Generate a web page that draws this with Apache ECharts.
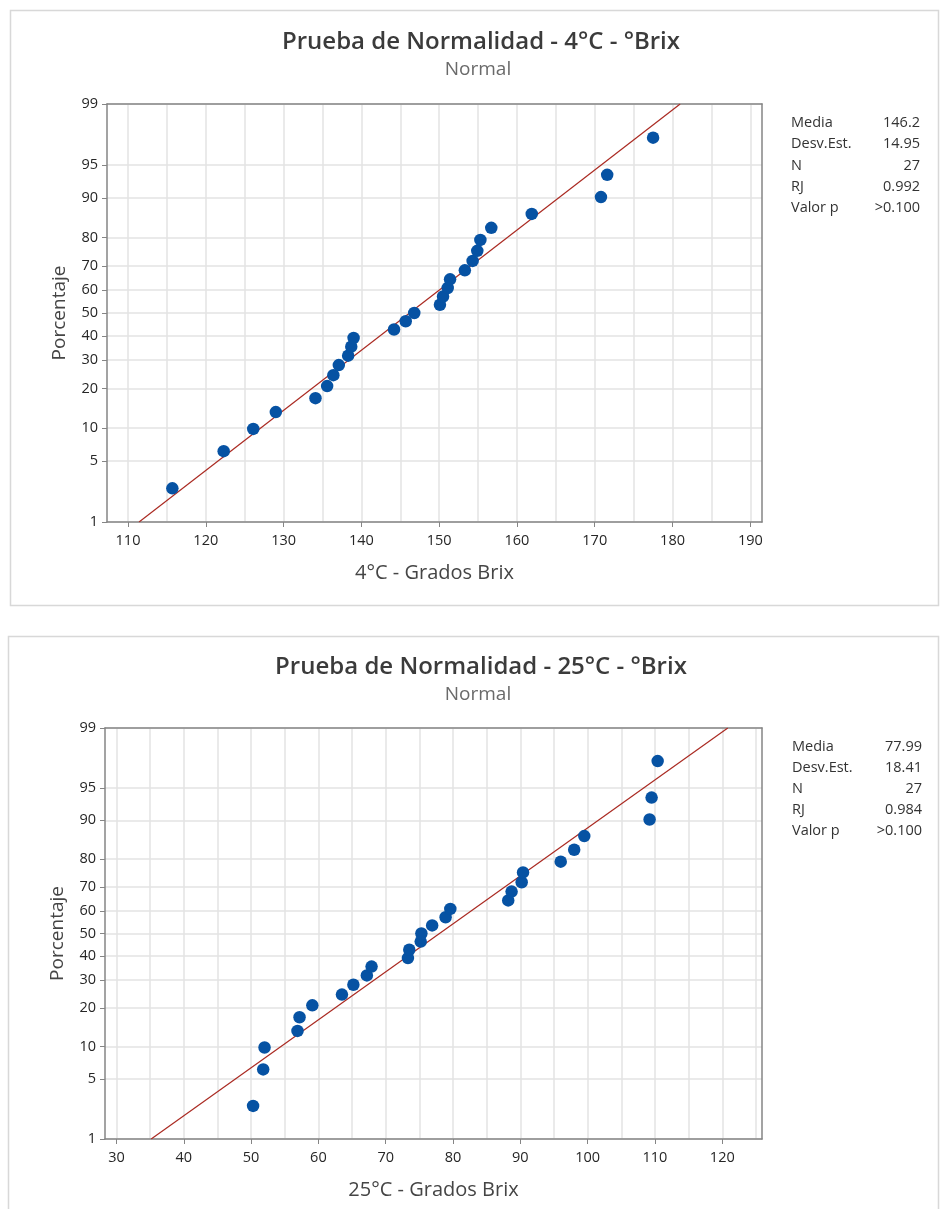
<!DOCTYPE html>
<html>
<head>
<meta charset="utf-8">
<title>Prueba de Normalidad</title>
<script src="https://cdn.jsdelivr.net/npm/echarts@6/dist/echarts.min.js"></script>
<style>
  html, body { margin: 0; padding: 0; background: #fff; }
  #main { width: 940px; height: 1209px; }
</style>
</head>
<body>
<div id="main"></div>
<script>
// ticks of the probability (percent) axis
const pctTicks = [1, 5, 10, 20, 30, 40, 50, 60, 70, 80, 90, 95, 99]

// plotting positions (%) of the 27 ordered points, same in both plots
const pctPoints = [2.55, 6.20, 9.85, 13.50, 17.15, 20.80, 24.45, 28.10, 31.75,
  35.40, 39.05, 42.70, 46.35, 50.00, 53.65, 57.30, 60.95, 64.60, 68.25, 71.90,
  75.55, 79.20, 82.85, 86.50, 90.15, 93.80, 97.45]

const brix4 = [115.7, 122.3, 126.1, 129.0, 134.1, 135.6, 136.4, 137.1, 138.3,
  138.7, 139.0, 144.2, 145.7, 146.8, 150.1, 150.5, 151.1, 151.4, 153.3, 154.3,
  154.9, 155.3, 156.7, 161.9, 170.8, 171.6, 177.5]
const brix25 = [50.3, 51.8, 52.0, 56.9, 57.2, 59.1, 63.5, 65.2, 67.2,
  67.9, 73.3, 73.5, 75.2, 75.3, 76.9, 78.9, 79.6, 88.2, 88.7, 90.2,
  90.4, 96.0, 98.0, 99.5, 109.2, 109.5, 110.4]

// x axis ticks (labelled) and grid lines
const xTicks4 = [110, 120, 130, 140, 150, 160, 170, 180, 190]
const xGrid4 = [110, 115, 120, 125, 130, 135, 140, 145, 150, 155, 160, 165, 170, 175, 180, 185, 190]
const xTicks25 = [30, 40, 50, 60, 70, 80, 90, 100, 110, 120]
const xGrid25 = [30, 35, 40, 45, 50, 55, 60, 65, 70, 75, 80, 85, 90, 95, 100, 105, 110, 115, 120, 125]

// stats table
const statLabels = ['Media', 'Desv.Est.', 'N', 'RJ', 'Valor p']
const stats4 = ['146.2', '14.95', '27', '0.992', '>0.100']
const stats25 = ['77.99', '18.41', '27', '0.984', '>0.100']

const FONT = '"Open Sans", "Noto Sans", sans-serif'

// inverse of the normal cdf (Acklam), used to build the probability scale
function probit(p) {
    const a = [-3.969683028665376e+01, 2.209460984245205e+02, -2.759285104469687e+02, 1.383577518672690e+02, -3.066479806614716e+01, 2.506628277459239e+00]
    const b = [-5.447609879822406e+01, 1.615858368580409e+02, -1.556989798598866e+02, 6.680131188771972e+01, -1.328068155288572e+01]
    const c = [-7.784894002430293e-03, -3.223964580411365e-01, -2.400758277161838e+00, -2.549732539343734e+00, 4.374664141464968e+00, 2.938163982698783e+00]
    const d = [7.784695709041462e-03, 3.224671290700398e-01, 2.445134137142996e+00, 3.754408661907416e+00]
    const pl = 0.02425
    let q, r
    if (p < pl) {
        q = Math.sqrt(-2 * Math.log(p))
        return (((((c[0] * q + c[1]) * q + c[2]) * q + c[3]) * q + c[4]) * q + c[5]) / ((((d[0] * q + d[1]) * q + d[2]) * q + d[3]) * q + 1)
    }
    if (p > 1 - pl) {
        q = Math.sqrt(-2 * Math.log(1 - p))
        return -(((((c[0] * q + c[1]) * q + c[2]) * q + c[3]) * q + c[4]) * q + c[5]) / ((((d[0] * q + d[1]) * q + d[2]) * q + d[3]) * q + 1)
    }
    q = p - 0.5
    r = q * q
    return (((((a[0] * r + a[1]) * r + a[2]) * r + a[3]) * r + a[4]) * r + a[5]) * q / (((((b[0] * r + b[1]) * r + b[2]) * r + b[3]) * r + b[4]) * r + 1)
}

const zTicks = pctTicks.map(p => probit(p / 100))
const zMin = zTicks[0]
const zMax = zTicks[zTicks.length - 1]

const axisColor = '#858585'
const gridColor = '#e3e3e3'

function pctLabel(v) {
    const i = zTicks.findIndex(z => Math.abs(z - v) < 1e-6)
    return i >= 0 ? String(pctTicks[i]) : ''
}

function makeX(gi, min, max, ticks, grid, name) {
    return [
        {
            gridIndex: gi, type: 'value', position: 'bottom', min: min, max: max,
            axisLine: { show: true, onZero: false, lineStyle: { color: axisColor, width: 1.5 } },
            axisTick: { show: true, length: 5, customValues: ticks, lineStyle: { color: axisColor } },
            axisLabel: { customValues: ticks, color: '#262626', fontSize: 14.5, fontFamily: FONT, margin: 11 },
            splitLine: { show: false },
            name: name, nameLocation: 'middle', nameGap: 41,
            nameTextStyle: { color: '#454545', fontSize: 20, fontFamily: FONT }
        },
        {
            gridIndex: gi, type: 'value', position: 'top', min: min, max: max,
            axisLine: { show: true, onZero: false, lineStyle: { color: axisColor, width: 1.5 } },
            axisTick: { show: false, customValues: grid },
            axisLabel: { show: false },
            splitLine: { show: true, lineStyle: { color: gridColor, width: 1.5 } }
        }
    ]
}

function makeY(gi) {
    return [
        {
            gridIndex: gi, type: 'value', position: 'left', min: zMin, max: zMax,
            axisLine: { show: true, onZero: false, lineStyle: { color: axisColor, width: 1.5 } },
            axisTick: { show: true, length: 5, customValues: zTicks, lineStyle: { color: axisColor } },
            axisLabel: { customValues: zTicks, formatter: pctLabel, color: '#262626', fontSize: 14.5, fontFamily: FONT, margin: 9 },
            splitLine: { show: true, lineStyle: { color: gridColor, width: 1.5 } },
            name: 'Porcentaje', nameLocation: 'middle', nameGap: 38, nameRotate: 90,
            nameTextStyle: { color: '#454545', fontSize: 19, fontFamily: FONT }
        },
        {
            gridIndex: gi, type: 'value', position: 'right', min: zMin, max: zMax,
            axisLine: { show: true, onZero: false, lineStyle: { color: axisColor, width: 1.5 } },
            axisTick: { show: false },
            axisLabel: { show: false },
            splitLine: { show: false }
        }
    ]
}

function makeSeries(axisIdx, values, stats) {
    const mean = parseFloat(stats[0])
    const sd = parseFloat(stats[1])
    return [
        {
            type: 'line', xAxisIndex: axisIdx, yAxisIndex: axisIdx,
            data: [[mean + sd * zMin, zMin], [mean + sd * zMax, zMax]],
            symbol: 'none', lineStyle: { color: '#aa2a22', width: 1.2 }, z: 2,
            silent: true
        },
        {
            type: 'scatter', xAxisIndex: axisIdx, yAxisIndex: axisIdx,
            data: values.map((v, i) => [v, probit(pctPoints[i] / 100)]),
            symbol: 'circle', symbolSize: 12.5, itemStyle: { color: '#0652a3', opacity: 1 }, z: 3
        }
    ]
}

function statTexts(rowY, step, xl, xr, values) {
    const out = []
    statLabels.forEach((lab, i) => {
        out.push({
            type: 'text', x: xl, y: rowY + i * step,
            style: { text: lab, font: '14.5px ' + FONT, fill: '#333', align: 'left', textAlign: 'left', verticalAlign: 'middle', textVerticalAlign: 'middle' }
        })
        out.push({
            type: 'text', x: xr, y: rowY + i * step,
            style: { text: values[i], font: '14.5px ' + FONT, fill: '#333', align: 'right', textAlign: 'right', verticalAlign: 'middle', textVerticalAlign: 'middle' }
        })
    })
    return out
}

function titleTexts(y, title) {
    return [
        {
            type: 'text', x: 481, y: y,
            style: { text: title, font: '600 24px ' + FONT, fill: '#3b3b3b', align: 'center', textAlign: 'center', verticalAlign: 'middle', textVerticalAlign: 'middle' }
        },
        {
            type: 'text', x: 478, y: y + 27,
            style: { text: 'Normal', font: '19px ' + FONT, fill: '#6a6a6a', align: 'center', textAlign: 'center', verticalAlign: 'middle', textVerticalAlign: 'middle' }
        }
    ]
}

const myChart = echarts.init(document.getElementById('main'), null, { renderer: 'canvas' })

const option = {
    backgroundColor: '#fff',
    animation: false,
    grid: [
        { left: 107, top: 104, width: 655, height: 418 },
        { left: 105, top: 728, width: 657, height: 411 }
    ],
    xAxis: [
        ...makeX(0, 107.3, 191.5, xTicks4, xGrid4, '4°C - Grados Brix'),
        ...makeX(1, 28.3, 125.9, xTicks25, xGrid25, '25°C - Grados Brix')
    ],
    yAxis: [...makeY(0), ...makeY(1)],
    series: [
        ...makeSeries(0, brix4, stats4),
        ...makeSeries(2, brix25, stats25)
    ],
    graphic: [
        { type: 'rect', shape: { x: 10.5, y: 10.5, width: 928, height: 595 }, style: { fill: 'none', stroke: '#d8d8d8', lineWidth: 1.5 }, z: -10 },
        { type: 'rect', shape: { x: 8.5, y: 636.5, width: 930, height: 620 }, style: { fill: 'none', stroke: '#d8d8d8', lineWidth: 1.5 }, z: -10 },
        ...titleTexts(42.5, 'Prueba de Normalidad - 4°C - °Brix'),
        ...titleTexts(667.5, 'Prueba de Normalidad - 25°C - °Brix'),
        ...statTexts(123, 21.3, 791, 920, stats4),
        ...statTexts(747, 20.9, 792, 922, stats25)
    ]
}

myChart.setOption(option)
</script>
</body>
</html>
